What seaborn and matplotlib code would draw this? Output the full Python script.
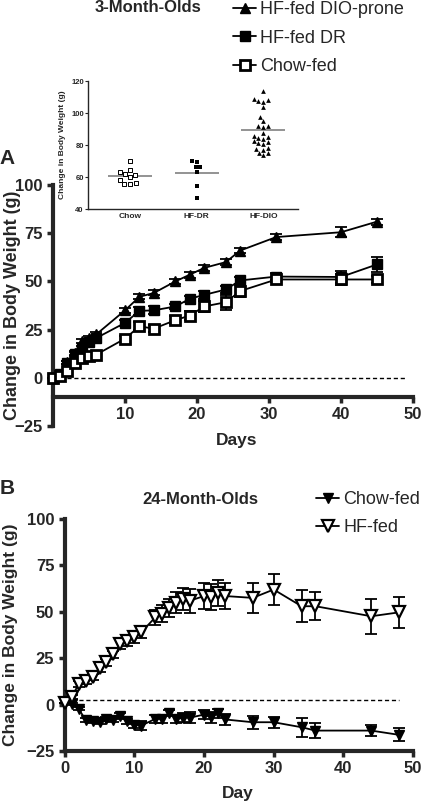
import numpy as np
import pandas as pd
import matplotlib
matplotlib.use('Agg')
import matplotlib.pyplot as plt
import seaborn as sns

# ---- Panel A: 3-month-olds, change in body weight (g) ----
days_a = [0, 1, 2, 3, 4, 5, 6, 10, 12, 14, 17, 19, 21, 24, 26, 31, 40, 45]
dio_mean = [0, 2, 8, 13, 19, 20.5, 22.5, 35, 42, 44, 50, 53.5, 57, 60, 66, 73, 75.5, 81]
dio_sem = [0, 0.5, 0.8, 1, 1, 1, 1, 1.2, 1.3, 1.3, 1.5, 1.5, 1.5, 1.5, 1.5, 1.5, 2.5, 1.5]
dr_mean = [0, 2, 7.8, 12.2, 15.5, 18.4, 20.6, 28.5, 34.7, 35, 37, 41, 43, 45.8, 50.5, 52.5, 52.3, 58.8]
dr_sem = [0, 0.5, 0.8, 1, 1, 1, 1, 1.5, 2, 2, 1.5, 1.5, 2, 2, 2, 2, 3, 4]
chow_a_mean = [0, 1, 3.3, 7.6, 10.5, 11.4, 12, 20.3, 26.7, 25.5, 29.9, 32.3, 37, 39.2, 45, 51, 51, 51]
chow_a_sem = [0, 0.5, 0.8, 1, 1, 1, 1, 1.5, 2, 2, 2, 2.5, 3, 4, 3, 1.5, 3, 2]

# inset: individual animals at end of study
inset_groups = ['Chow', 'HF-DR', 'HF-DIO']
inset_chow = [70, 63, 61.4, 60.3, 62, 64.3, 56.6, 55.8, 55.8, 58.3]
inset_dr = [70.1, 69.7, 66.6, 66.2, 63.5, 54.5, 46.9]
inset_dio = [113.5, 108.5, 107.2, 107.5, 108, 104, 97.4, 95.3, 91.8, 91.2, 91.8,
             87.6, 85.3, 84, 84.3, 85.8, 81.8, 80.7, 82.3, 81.2, 77.5, 78.4,
             77.2, 74.9, 73.9, 74.9]

# ---- Panel B: 24-month-olds ----
days_b = [0, 1, 2, 3, 4, 5, 6, 7, 8, 9, 10, 11, 13, 14, 15, 16, 17, 18,
          20, 21, 22, 23, 27, 30, 34, 36, 44, 48]
chow_b_mean = [1, 0.4, -2.3, -8.2, -9, -9.6, -7.7, -8.5, -5.9, -9, -10.8, -11.3,
               -7.7, -7.7, -4.5, -7.7, -7, -7, -5.4, -6.8, -4.7, -8, -9.5, -9.5,
               -12.2, -14, -14, -16.3]
chow_b_sem = [0, 0.5, 0.8, 1, 1, 1, 1, 1, 1.2, 1.5, 2, 2.5, 2, 2, 1.5, 2, 2.5, 3,
              2.5, 3, 2.5, 3, 3.5, 3, 5, 4, 3, 3.5]
hf_b_mean = [1, 4, 11, 12.5, 15, 19.8, 22.8, 27, 32.7, 34.5, 36.3, 39, 47, 49,
             52, 55, 57, 56, 58.5, 58, 60, 58.5, 57.5, 62, 53, 53, 47.6, 49.7]
hf_b_sem = [0, 1, 1.5, 1.5, 1.5, 2, 2, 2, 2.5, 3, 3, 3, 4, 4.5, 5, 5.5, 6, 6.5,
            7, 7, 7, 7, 8, 8.5, 8.5, 7.5, 9.5, 8.5]

sns.set_style('ticks')
plt.rcParams['font.family'] = ['Liberation Sans', 'DejaVu Sans']

fig = plt.figure(figsize=(4.22, 8.05), dpi=100)
axA = fig.add_axes([53 / 422, 1 - 426 / 805, 360 / 422, 241 / 805])
axB = fig.add_axes([64.7 / 422, 1 - 751 / 805, 348.3 / 422, 232 / 805])
axIn = fig.add_axes([88 / 422, 1 - 209.3 / 805, 210 / 422, 128.3 / 805])


def draw_series(ax, days, mean, sem, marker, face, ms, mew, label):
    df = pd.DataFrame({'day': days, 'value': mean})
    ax.errorbar(days, mean, yerr=sem, fmt='none', ecolor='black',
                elinewidth=1.3, capsize=4.5, capthick=1.3, zorder=2, clip_on=False)
    sns.lineplot(data=df, x='day', y='value', ax=ax, color='black', lw=1.3,
                 marker=marker, markersize=ms, markerfacecolor=face,
                 markeredgecolor='black', markeredgewidth=mew, label=label,
                 zorder=3, clip_on=False)


def style_axis(ax):
    for s in ['top', 'right']:
        ax.spines[s].set_visible(False)
    for s in ['left', 'bottom']:
        ax.spines[s].set_linewidth(3)
    ax.tick_params(width=2.5, length=4, labelsize=12)
    for lab in ax.get_xticklabels() + ax.get_yticklabels():
        lab.set_fontweight('bold')


# Panel A
draw_series(axA, days_a, dio_mean, dio_sem, '^', 'black', 7, 1, 'HF-fed DIO-prone')
draw_series(axA, days_a, dr_mean, dr_sem, 's', 'black', 6.5, 1, 'HF-fed DR')
draw_series(axA, days_a, chow_a_mean, chow_a_sem, 's', 'white', 6.5, 2, 'Chow-fed')
axA.hlines(0, 0, 49, colors='black', linestyles=(0, (3, 2)), lw=1)
axA.set_xlim(0, 50)
axA.set_ylim(-25, 100)
axA.set_xticks([10, 20, 30, 40, 50])
axA.set_yticks([-25, 0, 25, 50, 75, 100])
axA.spines['bottom'].set_position(('data', -10))
style_axis(axA)
axA.set_xlabel('Days', fontsize=12.5, fontweight='bold')
axA.xaxis.set_label_coords(0.51, -0.03)
axA.set_ylabel('Change in Body Weight (g)', fontsize=13, fontweight='bold')
axA.yaxis.set_label_coords(-0.09, 0.5)
hA, lA = axA.get_legend_handles_labels()
if axA.get_legend():
    axA.get_legend().remove()
fig.legend(hA, lA, loc='upper left', bbox_to_anchor=(233 / 422, 1 - 1.5 / 805),
           frameon=False, fontsize=13, handlelength=1.3, handletextpad=0.2,
           labelspacing=0.62, borderpad=0, borderaxespad=0)
fig.text(148 / 422, 1 - 8 / 805, '3-Month-Olds', ha='center', va='center',
         fontsize=12, fontweight='bold')
fig.text(7 / 422, 1 - 158 / 805, 'A', ha='center', va='center',
         fontsize=15, fontweight='bold')

# Inset
inset_df = pd.DataFrame({
    'group': ['Chow'] * len(inset_chow) + ['HF-DR'] * len(inset_dr) + ['HF-DIO'] * len(inset_dio),
    'value': inset_chow + inset_dr + inset_dio,
})
sns.swarmplot(data=inset_df[inset_df.group == 'Chow'], x='group', y='value',
              order=inset_groups, ax=axIn, marker='s', color='white',
              edgecolor='black', linewidth=0.7, size=3.2)
sns.swarmplot(data=inset_df[inset_df.group == 'HF-DR'], x='group', y='value',
              order=inset_groups, ax=axIn, marker='s', color='black', size=3.2)
sns.swarmplot(data=inset_df[inset_df.group == 'HF-DIO'], x='group', y='value',
              order=inset_groups, ax=axIn, marker='^', color='black', size=3.4)
means = inset_df.groupby('group')['value'].mean()
for i, g in enumerate(inset_groups):
    axIn.hlines(means[g], i - 0.33, i + 0.33, colors='#808080', lw=1.2, zorder=0)
axIn.set_xlim(-0.63, 2.52)
axIn.set_ylim(40, 120)
axIn.set_yticks([40, 60, 80, 100, 120])
axIn.set_xlabel('')
axIn.set_ylabel('Change in Body Weight (g)', fontsize=6, fontweight='bold')
for s in ['top', 'right']:
    axIn.spines[s].set_visible(False)
for s in ['left', 'bottom']:
    axIn.spines[s].set_linewidth(1)
axIn.tick_params(axis='y', width=0.8, length=2, labelsize=5.5, pad=1)
axIn.tick_params(axis='x', length=0, labelsize=6, pad=3)
for lab in axIn.get_xticklabels() + axIn.get_yticklabels():
    lab.set_fontweight('bold')
axIn.patch.set_alpha(0)

# Panel B
draw_series(axB, days_b, chow_b_mean, chow_b_sem, 'v', 'black', 7.5, 1, 'Chow-fed')
draw_series(axB, days_b, hf_b_mean, hf_b_sem, 'v', 'white', 8.5, 1.6, 'HF-fed')
axB.hlines(2.5, 0, 48, colors='black', linestyles=(0, (3, 2)), lw=1)
axB.set_xlim(0, 50)
axB.set_ylim(-25, 100)
axB.set_xticks([0, 10, 20, 30, 40, 50])
axB.set_yticks([-25, 0, 25, 50, 75, 100])
style_axis(axB)
axB.set_xlabel('Day', fontsize=12.5, fontweight='bold')
axB.xaxis.set_label_coords(0.4975, -0.15)
axB.set_ylabel('Change in Body Weight (g)', fontsize=12.5, fontweight='bold')
axB.yaxis.set_label_coords(-0.133, 0.5)
hB, lB = axB.get_legend_handles_labels()
if axB.get_legend():
    axB.get_legend().remove()
axB.legend(hB, lB, loc='upper left', bbox_to_anchor=(316 / 422, 1 - 491 / 805),
           bbox_transform=fig.transFigure, frameon=False, fontsize=13,
           handlelength=1.3, handletextpad=0.2, labelspacing=0.62,
           borderpad=0, borderaxespad=0)
fig.text(200 / 422, 1 - 499 / 805, '24-Month-Olds', ha='center', va='center',
         fontsize=12, fontweight='bold')
fig.text(7 / 422, 1 - 488 / 805, 'B', ha='center', va='center',
         fontsize=15, fontweight='bold')

fig.savefig('out.png', dpi=100)
